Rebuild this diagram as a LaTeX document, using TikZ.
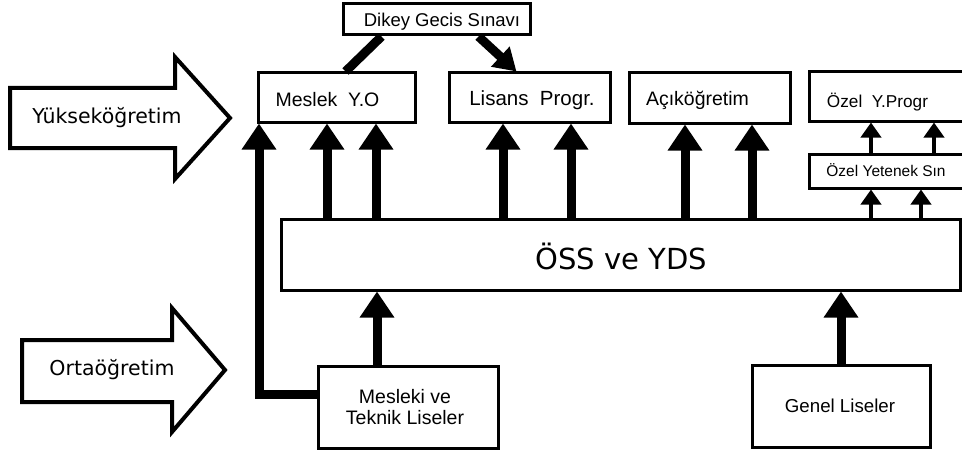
\documentclass[tikz,border=0pt]{standalone}
\usepackage{fontspec}
\setmainfont{Liberation Sans}
\newfontfamily\verd{DejaVu Sans}
\usetikzlibrary{arrows.meta}
\begin{document}
\begin{tikzpicture}[x=1pt,y=-1pt,
  box/.style={draw, line width=3pt, rectangle, inner sep=0pt},
  lbl/.style={inner sep=0pt, font=\fontsize{19.5}{21}\selectfont, align=center},
  slbl/.style={inner sep=0pt, font=\fontsize{17.2}{19}\selectfont},
  biglbl/.style={inner sep=0pt, font=\verd\fontsize{20.5}{24}\selectfont},
  thickarr/.style={-{Triangle[width=33pt,length=26pt]}, line width=9pt},
  thinarr/.style={-{Triangle[width=20pt,length=15pt]}, line width=4pt},
  hollow/.style={draw, line width=4pt, line join=miter},
]
\useasboundingbox (0,0) rectangle (962,452);
\fill[white] (0,0) rectangle (962,452);

% hollow block arrows
\draw[hollow] (10,88) -- (175,88) -- (175,57) -- (230,118) -- (175,179) -- (175,148) -- (10,148) -- cycle;
\node[biglbl] (yuk) at (107,118) {Yükseköğretim};
\draw[hollow] (22,340) -- (172,340) -- (172,308) -- (225,370) -- (172,432) -- (172,402) -- (22,402) -- cycle;
\node[biglbl] (orta) at (112,370) {Ortaöğretim};

% boxes
\node[box, minimum width=187pt, minimum height=31pt] (dikey) at (436.5,19.5) {};
\node[lbl, font=\fontsize{18.5}{20}\selectfont] (dikeyt) at (442,22) {Dikey Gecis Sınavı};
\node[box, minimum width=157pt, minimum height=49pt] (meslek) at (336.5,97.5) {};
\node[lbl] (meslekt) at (327.5,100) {Meslek\ \ Y.O};
\node[box, minimum width=161pt, minimum height=49pt] (lisans) at (529.5,97.5) {};
\node[lbl, font=\fontsize{20.5}{21}\selectfont] (lisanst) at (532,100) {Lisans\ \ Progr.};
\node[box, minimum width=161pt, minimum height=50pt] (acik) at (709.5,98) {};
\node[lbl] (acikt) at (697.5,100) {Açıköğretim};
\node[box, minimum width=161pt, minimum height=49pt] (ozel) at (889.5,96.5) {};
\node[slbl] (ozelt) at (877.5,102) {Özel\ \ Y.Progr};
\node[box, minimum width=161pt, minimum height=34pt] (yetenek) at (889.5,171) {};
\node[slbl, font=\fontsize{15.5}{17}\selectfont] (yetenekt) at (886,170) {Özel Yetenek Sın};
\node[box, minimum width=679pt, minimum height=71pt] (oss) at (620.5,254.5) {};
\node[inner sep=0pt, font=\verd\fontsize{29}{32}\selectfont] (osst) at (621.5,256) {ÖSS ve YDS};
\node[box, minimum width=180pt, minimum height=82pt] (mtl) at (408,407) {};
\node[lbl, font=\fontsize{19.5}{21.5}\selectfont] (mtlt) at (405,407) {Mesleki ve\\Teknik Liseler};
\node[box, minimum width=178pt, minimum height=82pt] (genel) at (841,406) {};
\node[lbl, font=\fontsize{18.7}{21}\selectfont] (genelt) at (840,406) {Genel Liseler};

% column coordinates
\coordinate (c1) at (327,0);
\coordinate (c2) at (376,0);
\coordinate (c3) at (503,0);
\coordinate (c4) at (571,0);
\coordinate (c5) at (685,0);
\coordinate (c6) at (752,0);
\coordinate (c7) at (871,0);
\coordinate (c8) at (921,0);
\coordinate (c9) at (934,0);
\coordinate (c10) at (377,0);
\coordinate (c11) at (841,0);
\coordinate (lx) at (259,394);

% thick arrows from OSS up
\draw[thickarr] (c1 |- oss.north) -- (c1 |- meslek.south);
\draw[thickarr] (c2 |- oss.north) -- (c2 |- meslek.south);
\draw[thickarr] (c3 |- oss.north) -- (c3 |- lisans.south);
\draw[thickarr] (c4 |- oss.north) -- (c4 |- lisans.south);
\draw[thickarr] (c5 |- oss.north) -- (c5 |- acik.south);
\draw[thickarr] (c6 |- oss.north) -- (c6 |- acik.south);

% thin arrows on the right
\draw[thinarr] (c7 |- oss.north) -- (c7 |- yetenek.south);
\draw[thinarr] (c8 |- oss.north) -- (c8 |- yetenek.south);
\draw[thinarr] (c7 |- yetenek.north) -- (c7 |- ozel.south);
\draw[thinarr] (c9 |- yetenek.north) -- (c9 |- ozel.south);

% from schools
\draw[thickarr] (c10 |- mtl.north) -- (c10 |- oss.south);
\draw[thickarr] (c11 |- genel.north) -- (c11 |- oss.south);
\draw[thickarr, line join=miter] (lx -| mtl.west) -- (lx) -- (lx |- meslek.south);

% Dikey Gecis connectors
\draw[line width=9pt] ([xshift=40pt]dikey.south west) -- ([xshift=89pt]meslek.north west);
\draw[line width=9pt, -{Triangle[width=26pt,length=22pt]}] ([xshift=137pt]dikey.south west) -- ([xshift=69pt]lisans.north west);
\end{tikzpicture}
\end{document}
